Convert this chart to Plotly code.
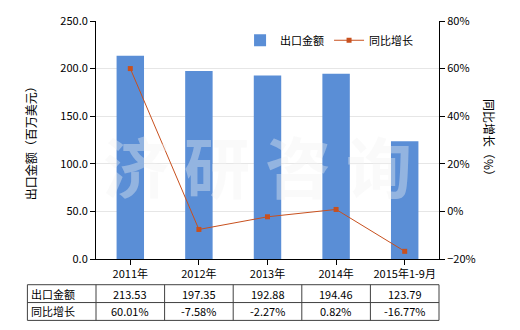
import plotly.graph_objects as go

categories = ["2011年", "2012年", "2013年", "2014年", "2015年1-9月"]
export_values = [213.53, 197.35, 192.88, 194.46, 123.79]
growth_values = [60.01, -7.58, -2.27, 0.82, -16.77]
export_labels = ["213.53", "197.35", "192.88", "194.46", "123.79"]
growth_labels = ["60.01%", "-7.58%", "-2.27%", "0.82%", "-16.77%"]
row_names = ["出口金额", "同比增长"]

FONT = "Noto Sans CJK SC"
BAR_COLOR = "#5A8ED6"
LINE_COLOR = "#C8501E"

fig = go.Figure()
fig.add_trace(go.Bar(
    x=categories, y=export_values, name="出口金额",
    marker=dict(color=BAR_COLOR, line=dict(width=0)), width=0.4, yaxis="y",
))
fig.add_trace(go.Scatter(
    x=categories, y=growth_values, name="同比增长", yaxis="y2",
    mode="lines+markers",
    line=dict(color=LINE_COLOR, width=1),
    marker=dict(symbol="square", size=5, color=LINE_COLOR),
))

n = len(categories)
# table geometry in paper coords
row_tops = [-0.108, -0.183, -0.258]
x_left = -1.0 / n
shapes = []
for yv in row_tops:
    shapes.append(dict(type="line", xref="paper", yref="paper", x0=x_left, x1=1.0, y0=yv, y1=yv,
                       line=dict(color="#404040", width=1)))
for i in range(n + 2):
    xv = x_left + i / n
    shapes.append(dict(type="line", xref="paper", yref="paper", x0=xv, x1=xv, y0=row_tops[0], y1=row_tops[-1],
                       line=dict(color="#404040", width=1)))

annotations = []
for r, (name, labels) in enumerate(zip(row_names, [export_labels, growth_labels])):
    yc = (row_tops[r] + row_tops[r + 1]) / 2
    annotations.append(dict(xref="paper", yref="paper", x=x_left + 0.005, y=yc, text=name,
                            showarrow=False, xanchor="left", yanchor="middle",
                            font=dict(family=FONT, size=11, color="#000")))
    for i, t in enumerate(labels):
        annotations.append(dict(xref="paper", yref="paper", x=(i + 0.5) / n, y=yc, text=t,
                                showarrow=False, xanchor="center", yanchor="middle",
                                font=dict(family=FONT, size=11, color="#000")))

annotations.append(dict(xref="paper", yref="paper", x=-0.192, y=0.5, text="出口金额（百万美元）",
                        xanchor="center", yanchor="middle",
                        textangle=-90, showarrow=False, font=dict(family=FONT, size=12, color="#000")))
annotations.append(dict(xref="paper", yref="paper", x=1.149, y=0.5, text="同比增长（%）",
                        xanchor="center", yanchor="middle",
                        textangle=90, showarrow=False, font=dict(family=FONT, size=12, color="#000")))
annotations.append(dict(xref="paper", yref="paper", x=0.47, y=0.40, text="<b>济 研 咨 询</b>",
                        xanchor="center", yanchor="middle",
                        showarrow=False, font=dict(family=FONT, size=66, color="rgba(241,241,241,0.38)")))

fig.update_layout(
    width=520, height=330,
    margin=dict(l=96, r=81, t=19, b=71),
    paper_bgcolor="white", plot_bgcolor="white",
    font=dict(family=FONT, size=11, color="#000"),
    bargap=0.6,
    showlegend=True,
    legend=dict(orientation="h", x=0.42, y=0.98, xanchor="left", yanchor="top",
                bgcolor="rgba(0,0,0,0)", font=dict(family=FONT, size=11), itemwidth=30),
    xaxis=dict(showline=True, linecolor="#000", linewidth=1, ticks="outside", ticklen=5,
               tickcolor="#000", showgrid=False, tickfont=dict(family=FONT, size=11)),
    yaxis=dict(range=[0, 250], dtick=50, tickformat=".1f", showline=True, linecolor="#000",
               ticks="outside", ticklen=5, tickcolor="#000", showgrid=True, gridcolor="#E6E6E6",
               zeroline=False, tickfont=dict(family=FONT, size=11)),
    yaxis2=dict(range=[-20, 80], dtick=20, ticksuffix="%", overlaying="y", side="right",
                showline=True, linecolor="#000", ticks="outside", ticklen=5, tickcolor="#000",
                showgrid=False, zeroline=False, tickfont=dict(family=FONT, size=11)),
    shapes=shapes,
    annotations=annotations,
)

fig.write_html("out.html")
